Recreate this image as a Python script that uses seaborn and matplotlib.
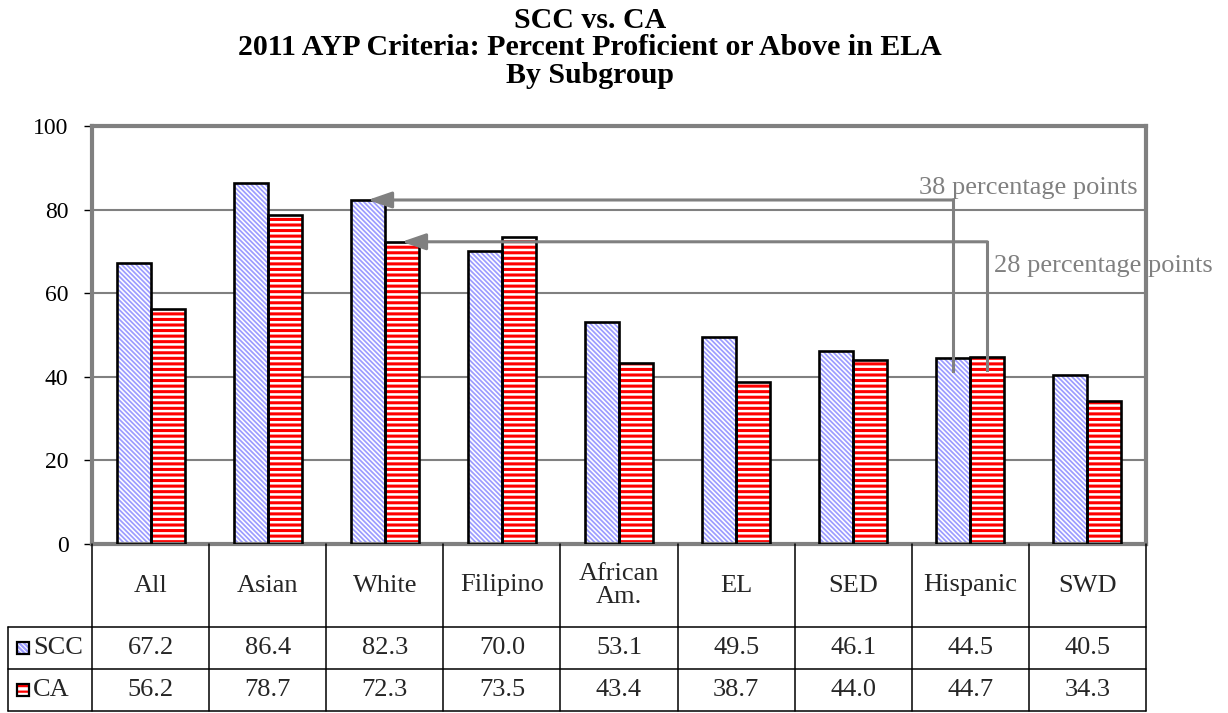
import numpy as np
import pandas as pd
import matplotlib
matplotlib.use("Agg")
import matplotlib.pyplot as plt
import seaborn as sns
from matplotlib.patches import Rectangle

# ---------------- data ----------------
categories = ["All", "Asian", "White", "Filipino", "African\nAm.", "EL", "SED", "Hispanic", "SWD"]
series = ["SCC", "CA"]
scc_values = [67.2, 86.4, 82.3, 70.0, 53.1, 49.5, 46.1, 44.5, 40.5]
ca_values = [56.2, 78.7, 72.3, 73.5, 43.4, 38.7, 44.0, 44.7, 34.3]
yticks = [0, 20, 40, 60, 80, 100]
title_lines = ["SCC vs. CA",
               "2011 AYP Criteria: Percent Proficient or Above in ELA",
               "By Subgroup"]
gap_labels = ["38 percentage points", "28 percentage points"]

# ---------------- style ----------------
sns.set_theme(style="white")
plt.rcParams["font.family"] = ["Liberation Serif", "DejaVu Serif"]
plt.rcParams["hatch.linewidth"] = 1.6

GRAY = "#808080"
BLUE_H = "#9c9cff"
RED_H = "#ff0000"

W, H = 1228, 713
L, R, T, B = 92, 1146, 126, 544
fig = plt.figure(figsize=(W / 100, H / 100), dpi=100)
ax = fig.add_axes([L / W, 1 - B / H, (R - L) / W, (B - T) / H])

df = pd.DataFrame({
    "cat": categories * 2,
    "val": scc_values + ca_values,
    "series": ["SCC"] * len(categories) + ["CA"] * len(categories),
})
sns.barplot(data=df, x="cat", y="val", hue="series", order=categories,
            hue_order=series, palette={"SCC": "white", "CA": "white"},
            saturation=1, width=0.58, legend=False, errorbar=None, ax=ax)

styles = {0: (BLUE_H, "\\" * 7, 1.25), 1: (RED_H, "---", 2.2)}
for ci, cont in enumerate(ax.containers):
    hc, hatch, hlw = styles[ci]
    for p in cont:
        p.set_facecolor("white")
        p.set_edgecolor(hc)
        if hasattr(p, "set_hatchcolor"):
            p.set_hatchcolor(hc)
        p.set_linewidth(0)
        p.set_hatch(hatch)
        if hasattr(p, "set_hatch_linewidth"):
            p.set_hatch_linewidth(hlw)
        ax.add_patch(Rectangle((p.get_x(), p.get_y()), p.get_width(), p.get_height(),
                               fill=False, edgecolor="black", linewidth=1.9, zorder=3))

ax.set_xlim(-0.5, len(categories) - 0.5)
ax.set_ylim(0, 100)
ax.set_yticks(yticks)
ax.set_xticks([])
ax.set_xlabel("")
ax.set_ylabel("")
ax.yaxis.grid(True, color=GRAY, linewidth=1.5)
ax.set_axisbelow(True)
for s in ax.spines.values():
    s.set_color(GRAY)
    s.set_linewidth(3)
ax.tick_params(axis="y", left=True, direction="out", length=6, width=1,
               color="black", labelsize=17, pad=11, labelcolor="black")

# ---------------- gap arrows ----------------
scc_bars = ax.containers[0]
ca_bars = ax.containers[1]
i_top = categories.index("White")
i_bot = categories.index("Hispanic")


def gap_arrow(top_p, bot_p):
    tx = top_p.get_x() + top_p.get_width() / 2
    ty = top_p.get_height()
    bx = bot_p.get_x() + bot_p.get_width() / 2
    by = bot_p.get_height() - 3
    ax.plot([bx, bx], [by, ty], color=GRAY, lw=2.2, solid_capstyle="projecting",
            zorder=6, clip_on=False)
    ax.annotate("", xy=(tx, ty), xytext=(bx, ty),
                arrowprops=dict(arrowstyle="-|>,head_length=1.45,head_width=0.5",
                                color=GRAY, lw=2.2, shrinkA=0, shrinkB=0,
                                mutation_scale=10),
                zorder=6, annotation_clip=False)


gap_arrow(scc_bars[i_top], scc_bars[i_bot])
gap_arrow(ca_bars[i_top], ca_bars[i_bot])
ax.text(8.43, 85.2, gap_labels[0], ha="right", va="center", color=GRAY,
        fontsize=19, zorder=7, clip_on=False)
ax.text(7.20, 66.5, gap_labels[1], ha="left", va="center", color=GRAY,
        fontsize=19, zorder=7, clip_on=False)

# ---------------- title ----------------
for line, yb in zip(title_lines, [28, 55, 83]):
    fig.text(590 / W, 1 - yb / H, line, ha="center", va="baseline",
             fontsize=21.5, fontweight="bold", color="black")

# ---------------- data table ----------------
tax = fig.add_axes([0, 0, 1, 1], facecolor="none")
tax.set_xlim(0, W)
tax.set_ylim(H, 0)
tax.axis("off")

cw = (R - L) / len(categories)
ROW0, ROW1, ROW2, ROW3 = B, 627, 669, 711
LX = 8
lk = dict(color="black", lw=1.1)
for k in range(len(categories) + 1):
    x = L + k * cw
    tax.plot([x, x], [ROW0, ROW3], **lk)
tax.plot([LX, LX], [ROW1, ROW3], **lk)
for yy in (ROW1, ROW2, ROW3):
    tax.plot([LX, R], [yy, yy], **lk)

for i, cat in enumerate(categories):
    cx = L + (i + 0.5) * cw
    tax.text(cx, (ROW0 + ROW1) / 2, cat, ha="center", va="center",
             fontsize=19, linespacing=1.05)
    tax.text(cx, (ROW1 + ROW2) / 2, f"{scc_values[i]:.1f}", ha="center",
             va="center", fontsize=19)
    tax.text(cx, (ROW2 + ROW3) / 2, f"{ca_values[i]:.1f}", ha="center",
             va="center", fontsize=19)

for (name, ycen), (hc, hatch, hlw) in zip([(series[0], (ROW1 + ROW2) / 2),
                                           (series[1], (ROW2 + ROW3) / 2)],
                                          [styles[0], styles[1]]):
    bg = Rectangle((17, ycen - 6), 12, 12, facecolor="white", edgecolor=hc,
                   linewidth=0, hatch=hatch)
    tax.add_patch(bg)
    tax.add_patch(Rectangle((17, ycen - 6), 12, 12, fill=False,
                            edgecolor="black", linewidth=1.6))
    tax.text(33, ycen, name, ha="left", va="center", fontsize=19)

fig.savefig("out.png", dpi=100)
